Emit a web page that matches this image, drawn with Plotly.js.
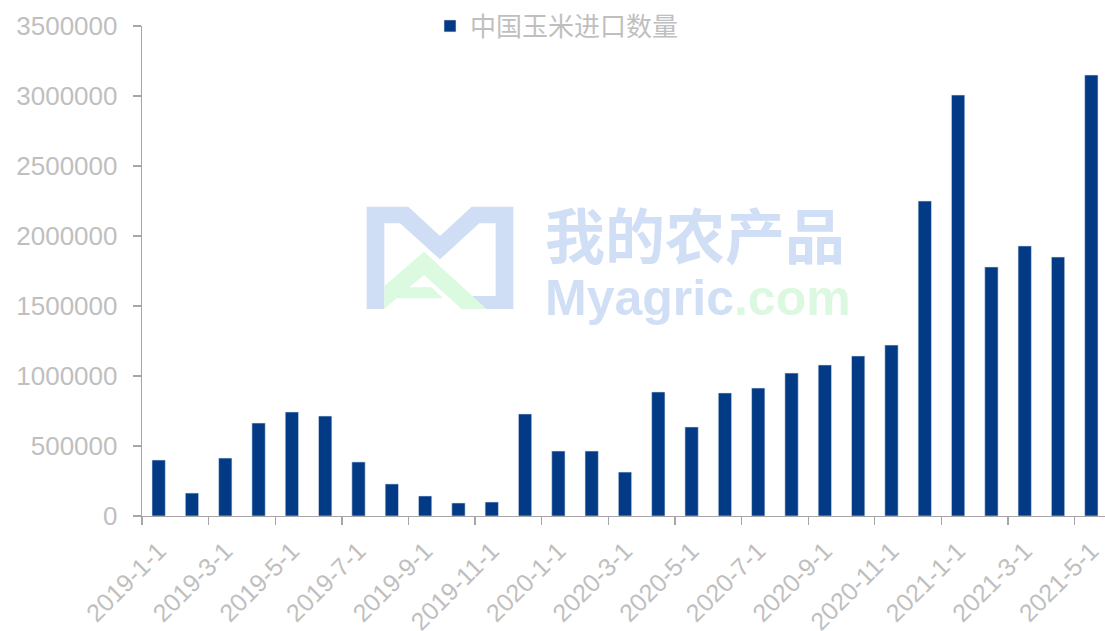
<!DOCTYPE html>
<html>
<head>
<meta charset="utf-8">
<script src="https://cdn.plot.ly/plotly-3.0.1.min.js"></script>
<style>
html,body{margin:0;padding:0;overflow:hidden;background:#fff;}
#chart{width:1108px;height:631px;}
</style>
</head>
<body>
<div id="chart"></div>
<script>
// Data
const categories = [
  "2019-1-1","2019-2-1","2019-3-1","2019-4-1","2019-5-1","2019-6-1","2019-7-1","2019-8-1","2019-9-1","2019-10-1","2019-11-1","2019-12-1",
  "2020-1-1","2020-2-1","2020-3-1","2020-4-1","2020-5-1","2020-6-1","2020-7-1","2020-8-1","2020-9-1","2020-10-1","2020-11-1","2020-12-1",
  "2021-1-1","2021-2-1","2021-3-1","2021-4-1","2021-5-1"
];
const importVolume = [
  400000,164000,414000,664000,743000,714000,386000,229000,143000,93000,100000,729000,
  464000,464000,314000,886000,636000,879000,914000,1021000,1079000,1143000,1221000,2250000,
  3007000,1779000,1929000,1850000,3150000
];
const seriesName = "中国玉米进口数量";
const yTickVals = [0,500000,1000000,1500000,2000000,2500000,3000000,3500000];

const gray = "#bfbfbf";
const axisGray = "#a6a6a6";

// watermark logo (decorative)
const logoSvg = '<svg xmlns="http://www.w3.org/2000/svg" width="500" height="400" viewBox="0 0 500 400">' +
  '<polygon fill="#cfdef5" points="50,50 175,50 270,138 365,50 490,50 490,357 365,357 365,318 437,318 437,100 388,100 270,208 150,100 103,100 103,357 50,357"/>' +
  '<polygon fill="#dcfadf" points="103,288 222,185 410,357 335,357 222,255 178,292 245,292 278,325 140,325 103,357"/>' +
  '</svg>';
const logoSrc = "data:image/svg+xml;base64," + btoa(logoSvg);

const W = 1108, H = 631;
const mL = 142, mR = 0, mT = 26, mB = 115;
const pw = W - mL - mR, ph = H - mT - mB;
function px(x){ return (x - mL) / pw; }
function py(y){ return (H - mB - y) / ph; }

const trace = {
  type: "bar",
  x: categories,
  y: importVolume,
  name: seriesName,
  marker: {color: "#023a85", line: {color: "#dfe6f0", width: 0.6}},
  showlegend: true
};

const layout = {
  width: W, height: H,
  margin: {l: mL, r: mR, t: mT, b: mB, pad: 0},
  paper_bgcolor: "#fff", plot_bgcolor: "#fff",
  bargap: 0.6,
  font: {family: "Liberation Sans, Arial, sans-serif", color: gray, size: 26},
  showlegend: true,
  legend: {
    orientation: "h", x: px(430), xanchor: "left", y: 1.0, yanchor: "middle",
    font: {family: "Noto Sans CJK SC, Liberation Sans, sans-serif", size: 26, color: gray},
    bgcolor: "rgba(0,0,0,0)"
  },
  xaxis: {
    type: "category",
    categoryorder: "array", categoryarray: categories,
    tickson: "boundaries",
    dtick: 2,
    ticks: "outside", ticklen: 8, tickcolor: axisGray, tickwidth: 1.3,
    showline: true, linecolor: axisGray, linewidth: 1.3,
    showgrid: false, zeroline: false,
    tickangle: -45,
    tickfont: {size: 25, color: gray},
    ticklabelstandoff: 9,
    automargin: false
  },
  yaxis: {
    range: [0, 3500000],
    tickvals: yTickVals,
    ticktext: yTickVals.map(String),
    ticks: "outside", ticklen: 8, tickcolor: axisGray, tickwidth: 1.3,
    showline: true, linecolor: axisGray, linewidth: 1.3,
    showgrid: false, zeroline: false,
    tickfont: {size: 26, color: gray},
    ticklabelstandoff: 10,
    automargin: false
  },
  images: [{
    source: logoSrc, xref: "paper", yref: "paper",
    x: px(350), y: py(190), sizex: 500/3/pw, sizey: 400/3/ph,
    xanchor: "left", yanchor: "top", sizing: "stretch", layer: "below"
  }],
  annotations: [
    {xref: "paper", yref: "paper", x: px(695), y: py(232), xanchor: "center", yanchor: "middle",
     text: "我的农产品", showarrow: false,
     font: {family: "Noto Sans CJK SC, sans-serif", size: 60, color: "#d0dff5", weight: 700}},
    {xref: "paper", yref: "paper", x: px(698), y: py(298), xanchor: "center", yanchor: "middle",
     text: 'Myagric<span style="color:#ddf8e0">.com</span>', showarrow: false,
     font: {family: "Liberation Sans, Arial, sans-serif", size: 50, color: "#d0dff5", weight: 700}}
  ]
};

Plotly.newPlot("chart", [trace], layout, {displayModeBar: false, staticPlot: true});
</script>
</body>
</html>
